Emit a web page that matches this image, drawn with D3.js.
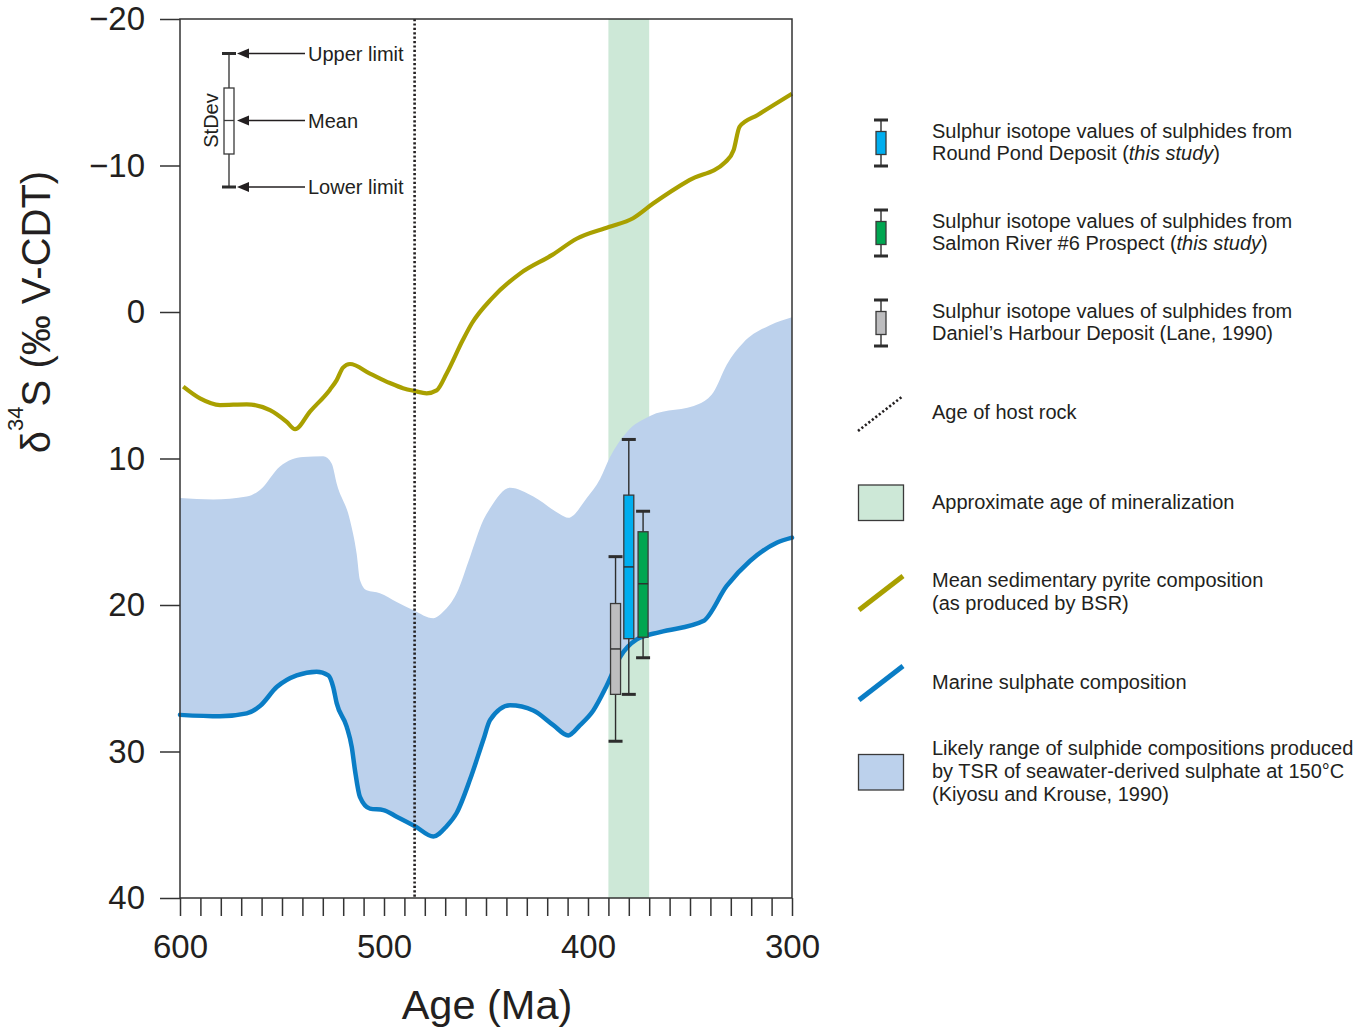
<!DOCTYPE html>
<html>
<head>
<meta charset="utf-8">
<script src="https://cdn.jsdelivr.net/npm/d3@7"></script>
<style>
  body { margin: 0; background: #fff; }
  svg text { font-family: "Liberation Sans", Arial, Helvetica, sans-serif; fill: #231f20; }
</style>
</head>
<body>
<svg id="chart" width="1366" height="1029"></svg>
<script>
// ---- Data: δ34S (‰ V-CDT) against age (Ma) ----

// Mean sedimentary pyrite composition (as produced by BSR)
const pyriteAge  = [598.4, 590.2, 580.4, 567.3, 555.9, 547.7, 543.6, 536.3, 526.5, 523.2, 520.1, 516.7,
                    506.9, 497.1, 490.7, 484.8, 479.1, 474.2, 469.3, 461.3, 456.9, 447.1, 433.2, 417.5,
                    405.6, 389.8, 377.9, 368.1, 350.3, 332.5, 328.6, 325.7, 316.8, 300];
const pyriteD34S = [5.1, 5.9, 6.35, 6.3, 6.7, 7.5, 8.0, 6.8, 5.3, 4.65, 3.8, 3.55,
                    4.2, 4.85, 5.2, 5.4, 5.55, 5.35, 4.2, 1.9, 0.77, -0.93, -2.64, -3.9,
                    -5.0, -5.8, -6.4, -7.4, -9.0, -10.26, -11.06, -12.65, -13.45, -14.9];

// Marine sulphate composition (also the heavy edge of the TSR range)
const sulphateAge  = [600, 580.4, 567.3, 560.8, 552.6, 542.8, 533.0, 527.3, 524.9, 523.2, 518.3, 515.8,
                      514.2, 511.8, 506.9, 500.3, 493.8, 484.8, 475.8, 469.3, 464.4, 457.8, 451.3, 448.0,
                      438.2, 426.8, 417.0, 409.7, 403.9, 397.4, 390.8, 384.3, 376.1, 364.7, 343.5, 332.0,
                      320.6, 307.5, 300];
const sulphateD34S = [27.5, 27.6, 27.4, 26.9, 25.6, 24.8, 24.55, 24.8, 25.6, 26.7, 28.3, 29.7,
                      31.3, 33.1, 33.9, 34.0, 34.45, 35.1, 35.8, 35.1, 34.2, 31.9, 29.2, 27.85,
                      26.85, 27.2, 28.2, 28.9, 28.2, 27.2, 25.5, 23.55, 22.35, 21.85, 21.1, 18.7,
                      17.0, 15.75, 15.4];

// Light edge of the likely TSR sulphide range at 150 °C
const tsrTopAge  = [600, 583.7, 567.3, 560.8, 551.0, 539.6, 529.8, 525.6, 523.2, 516.7, 513.4, 511.8,
                    508.5, 502.0, 493.8, 485.6, 475.8, 470.9, 464.4, 457.8, 451.3, 448.0, 438.2, 426.8,
                    413.7, 409.7, 400.6, 394.1, 389.2, 381.0, 369.6, 345.1, 338.6, 332.0, 323.9, 310.8, 300];
const tsrTopD34S = [12.7, 12.8, 12.6, 12.15, 10.55, 9.9, 9.85, 10.35, 11.7, 14.2, 16.5, 18.3,
                    19.0, 19.2, 19.8, 20.35, 20.9, 20.45, 19.2, 16.7, 14.2, 13.4, 12.0, 12.6,
                    13.8, 14.05, 12.7, 11.4, 9.9, 8.2, 7.1, 6.25, 5.5, 3.6, 2.1, 0.9, 0.35];

// Age of host rock and approximate age of mineralization (Ma)
const hostRockAge = 485;
const mineralizationAge = [390, 370];

// Sulphide δ34S summaries per deposit
const deposits      = ["Daniel\u2019s Harbour", "Round Pond", "Salmon River #6"];
const depositAge    = [386.5, 380, 373];
const depositLow    = [16.7, 8.7, 13.6];   // upper limit (lightest)
const depositQ1     = [19.9, 12.5, 15.0];  // mean − stdev
const depositMean   = [23.0, 17.4, 18.55];
const depositQ3     = [26.1, 22.3, 22.2];  // mean + stdev
const depositHigh   = [29.3, 26.1, 23.6];  // lower limit (heaviest)
const depositColors = ["#bdbdbf", "#00aeef", "#00a651"];

// Axis ticks
const yTicks = [-20, -10, 0, 10, 20, 30, 40];
const xLabelTicks = [600, 500, 400, 300];
const xMinorTicks = d3.range(300, 601, 10);

// ---- Drawing ----
const FONT = '"Liberation Sans", Arial, Helvetica, sans-serif';
const INK = "#231f20";
const OLIVE = "#a9a000";
const SEA = "#0a7dc5";
const TSR_FILL = "#bcd1ec";
const MIN_FILL = "#cde8d7";
const LEGEND_FS = 20;
const DOTS = { width: 2.6, dash: "2.2,2.2" };

const svg = d3.select("#chart");
const x = d3.scaleLinear().domain([600, 300]).range([180, 792]);
const y = d3.scaleLinear().domain([-20, 40]).range([19, 898]);

const zip = (a, b) => a.map((v, i) => [v, b[i]]);
const pyrite = zip(pyriteAge, pyriteD34S);
const sulphate = zip(sulphateAge, sulphateD34S);
const tsrTop = zip(tsrTopAge, tsrTopD34S);

const curve = d3.curveMonotoneX;
const line = d3.line().x(d => x(d[0])).y(d => y(d[1])).curve(curve);

// mineralization window
svg.append("rect")
  .attr("x", x(mineralizationAge[0]))
  .attr("width", x(mineralizationAge[1]) - x(mineralizationAge[0]))
  .attr("y", y(-20)).attr("height", y(40) - y(-20))
  .attr("fill", MIN_FILL);

// TSR range: area below the light edge, clipped to the region above marine sulphate
svg.append("clipPath").attr("id", "aboveSulphate")
  .append("path")
  .attr("d", d3.area().x(d => x(d[0])).y0(y(-20)).y1(d => y(d[1])).curve(curve)(sulphate));

svg.append("path")
  .attr("clip-path", "url(#aboveSulphate)")
  .attr("d", d3.area().x(d => x(d[0])).y0(d => y(d[1])).y1(y(40)).curve(curve)(tsrTop))
  .attr("fill", TSR_FILL);

// marine sulphate curve
svg.append("path").attr("d", line(sulphate))
  .attr("fill", "none").attr("stroke", SEA).attr("stroke-width", 4.5)
  .attr("stroke-linecap", "round").attr("stroke-linejoin", "round");

// mean sedimentary pyrite curve
svg.append("path").attr("d", line(pyrite))
  .attr("fill", "none").attr("stroke", OLIVE).attr("stroke-width", 4.2)
  .attr("stroke-linecap", "butt").attr("stroke-linejoin", "round");

// host rock age
svg.append("line")
  .attr("x1", x(hostRockAge)).attr("x2", x(hostRockAge))
  .attr("y1", y(-20)).attr("y2", y(40))
  .attr("stroke", INK).attr("stroke-width", DOTS.width).attr("stroke-dasharray", DOTS.dash);

// deposit box plots
const boxW = 10, capW = 14;
const boxes = svg.append("g").selectAll("g").data(deposits).join("g");
boxes.append("line")
  .attr("x1", (d, i) => x(depositAge[i])).attr("x2", (d, i) => x(depositAge[i]))
  .attr("y1", (d, i) => y(depositLow[i])).attr("y2", (d, i) => y(depositHigh[i]))
  .attr("stroke", "#2d2d2d").attr("stroke-width", 1.4);
boxes.append("rect")
  .attr("x", (d, i) => x(depositAge[i]) - boxW / 2).attr("width", boxW)
  .attr("y", (d, i) => y(depositQ1[i])).attr("height", (d, i) => y(depositQ3[i]) - y(depositQ1[i]))
  .attr("fill", (d, i) => depositColors[i]).attr("stroke", "#3a3a3a").attr("stroke-width", 1.3);
boxes.append("line")
  .attr("x1", (d, i) => x(depositAge[i]) - boxW / 2).attr("x2", (d, i) => x(depositAge[i]) + boxW / 2)
  .attr("y1", (d, i) => y(depositMean[i])).attr("y2", (d, i) => y(depositMean[i]))
  .attr("stroke", "#2d2d2d").attr("stroke-width", 1.4);
[depositLow, depositHigh].forEach(arr => {
  boxes.append("line")
    .attr("x1", (d, i) => x(depositAge[i]) - capW / 2).attr("x2", (d, i) => x(depositAge[i]) + capW / 2)
    .attr("y1", (d, i) => y(arr[i])).attr("y2", (d, i) => y(arr[i]))
    .attr("stroke", "#2d2d2d").attr("stroke-width", 3);
});

// frame
svg.append("rect")
  .attr("x", x(600)).attr("y", y(-20))
  .attr("width", x(300) - x(600)).attr("height", y(40) - y(-20))
  .attr("fill", "none").attr("stroke", "#333").attr("stroke-width", 1.5);

// axes
const fmt = d => (d < 0 ? "\u2212" + Math.abs(d) : String(d));
const gy = svg.append("g").attr("transform", `translate(${x(600)},0)`)
  .call(d3.axisLeft(y).tickValues(yTicks).tickSize(20).tickSizeOuter(0).tickPadding(15).tickFormat(fmt));
const gx = svg.append("g").attr("transform", `translate(0,${y(40)})`)
  .call(d3.axisBottom(x).tickValues(xMinorTicks).tickSize(18).tickSizeOuter(0).tickPadding(19)
        .tickFormat(d => xLabelTicks.includes(d) ? fmt(d) : ""));
[gx, gy].forEach(g => {
  g.attr("font-family", FONT).attr("font-size", 33).attr("color", INK);
  g.select(".domain").remove();
  g.selectAll(".tick line").attr("stroke", "#333").attr("stroke-width", 1.5);
});

// axis titles
svg.append("text")
  .attr("x", 487).attr("y", 1019)
  .attr("text-anchor", "middle").attr("font-size", 41.5)
  .text("Age (Ma)");

const yTitle = svg.append("text")
  .attr("transform", "translate(50,312) rotate(-90)")
  .attr("text-anchor", "middle").attr("font-size", 40);
yTitle.append("tspan").text("\u03b4");
yTitle.append("tspan").attr("font-size", 22).attr("dy", -27).text("34");
yTitle.append("tspan").attr("dy", 27).text("S (\u2030 V-CDT)");

// ---- key to the box plot (inset) ----
const inset = svg.append("g").attr("transform", "translate(229,0)");
inset.append("line").attr("x1", 0).attr("x2", 0).attr("y1", 53.5).attr("y2", 187)
  .attr("stroke", "#2d2d2d").attr("stroke-width", 1.3);
inset.append("rect").attr("x", -5).attr("y", 88).attr("width", 10).attr("height", 66)
  .attr("fill", "#fff").attr("stroke", "#3a3a3a").attr("stroke-width", 1.3);
inset.append("line").attr("x1", -5).attr("x2", 5).attr("y1", 120.5).attr("y2", 120.5)
  .attr("stroke", "#3a3a3a").attr("stroke-width", 1.3);
[53.5, 187].forEach(yy => inset.append("line").attr("x1", -7).attr("x2", 7).attr("y1", yy).attr("y2", yy)
  .attr("stroke", "#2d2d2d").attr("stroke-width", 3));
const insetLabels = [["Upper limit", 53.5], ["Mean", 120.5], ["Lower limit", 187]];
insetLabels.forEach(([label, yy]) => {
  inset.append("line").attr("x1", 18).attr("x2", 76).attr("y1", yy).attr("y2", yy)
    .attr("stroke", INK).attr("stroke-width", 1.3);
  inset.append("path").attr("d", `M8,${yy}L20,${yy - 5}L20,${yy + 5}Z`).attr("fill", INK);
  inset.append("text").attr("x", 79).attr("y", yy).attr("dy", "0.35em")
    .attr("font-size", LEGEND_FS).text(label);
});
inset.append("text").attr("transform", "translate(-11.5,120.5) rotate(-90)")
  .attr("text-anchor", "middle").attr("font-size", LEGEND_FS).text("StDev");

// ---- legend ----
const legend = svg.append("g");
const textX = 932, lh = 22.6;
function legendText(lines, yCenter) {
  const top = yCenter - (lines.length - 1) * lh / 2;
  lines.forEach((parts, k) => {
    const t = legend.append("text").attr("x", textX).attr("y", top + k * lh).attr("dy", "0.35em")
      .attr("font-size", LEGEND_FS);
    (Array.isArray(parts) ? parts : [parts]).forEach(p => {
      if (typeof p === "string") t.append("tspan").text(p);
      else t.append("tspan").attr("font-style", "italic").text(p.i);
    });
  });
}
function legendBox(cx, yCenter, color) {
  const g = legend.append("g");
  g.append("line").attr("x1", cx).attr("x2", cx).attr("y1", yCenter - 23).attr("y2", yCenter + 23)
    .attr("stroke", "#2d2d2d").attr("stroke-width", 1.4);
  g.append("rect").attr("x", cx - 5).attr("y", yCenter - 11.5).attr("width", 10).attr("height", 23)
    .attr("fill", color).attr("stroke", "#3a3a3a").attr("stroke-width", 1.3);
  [-23, 23].forEach(o => g.append("line").attr("x1", cx - 7).attr("x2", cx + 7)
    .attr("y1", yCenter + o).attr("y2", yCenter + o).attr("stroke", "#2d2d2d").attr("stroke-width", 3));
}

// deposit legends in the order Round Pond, Salmon River, Daniel's Harbour
const legendOrder = [1, 2, 0];
const legendNames = [
  ["Daniel\u2019s Harbour Deposit (Lane, 1990)"],
  ["Round Pond Deposit (", { i: "this study" }, ")"],
  ["Salmon River #6 Prospect (", { i: "this study" }, ")"]
];
legendOrder.forEach((idx, k) => {
  const yc = 143 + k * 90;
  legendBox(881, yc, depositColors[idx]);
  legendText(["Sulphur isotope values of sulphides from", legendNames[idx]], yc - 1);
});

// host rock age
legend.append("line").attr("x1", 858).attr("y1", 431).attr("x2", 903).attr("y2", 396)
  .attr("stroke", INK).attr("stroke-width", DOTS.width).attr("stroke-dasharray", DOTS.dash);
legendText(["Age of host rock"], 411.5);

// mineralization
legend.append("rect").attr("x", 858.5).attr("y", 485).attr("width", 45).attr("height", 35.5)
  .attr("fill", MIN_FILL).attr("stroke", "#3a3a3a").attr("stroke-width", 1.3);
legendText(["Approximate age of mineralization"], 501.5);

// pyrite
legend.append("line").attr("x1", 859).attr("y1", 610).attr("x2", 903).attr("y2", 576)
  .attr("stroke", OLIVE).attr("stroke-width", 5);
legendText(["Mean sedimentary pyrite composition", "(as produced by BSR)"], 591.5);

// sulphate
legend.append("line").attr("x1", 859).attr("y1", 700).attr("x2", 903).attr("y2", 666)
  .attr("stroke", SEA).attr("stroke-width", 5);
legendText(["Marine sulphate composition"], 681.5);

// TSR range
legend.append("rect").attr("x", 858.5).attr("y", 754.5).attr("width", 45).attr("height", 35.5)
  .attr("fill", TSR_FILL).attr("stroke", "#3a3a3a").attr("stroke-width", 1.3);
legendText(["Likely range of sulphide compositions produced",
            "by TSR of seawater-derived sulphate at 150\u00b0C",
            "(Kiyosu and Krouse, 1990)"], 771);
</script>
</body>
</html>
